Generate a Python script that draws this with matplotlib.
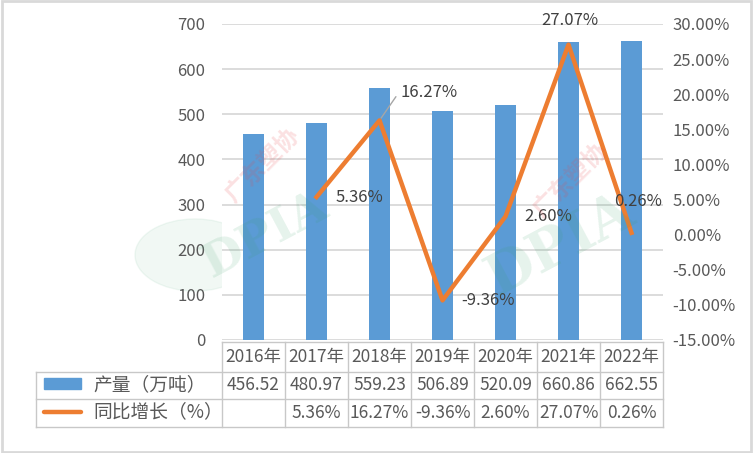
import matplotlib
matplotlib.use("Agg")
import matplotlib.pyplot as plt
from matplotlib.patches import Rectangle, Circle
from matplotlib.lines import Line2D

plt.rcParams['font.family'] = ['Liberation Sans Narrow', 'Noto Sans CJK SC', 'DejaVu Sans']

years = ['2016年', '2017年', '2018年', '2019年', '2020年', '2021年', '2022年']
output = [456.52, 480.97, 559.23, 506.89, 520.09, 660.86, 662.55]
growth = [None, 5.36, 16.27, -9.36, 2.60, 27.07, 0.26]
output_txt = ['456.52', '480.97', '559.23', '506.89', '520.09', '660.86', '662.55']
growth_txt = ['', '5.36%', '16.27%', '-9.36%', '2.60%', '27.07%', '0.26%']
series_names = ['产量（万吨）', '同比增长（%）']

blue = '#5B9BD5'
orange = '#ED7D31'
txt = '#595959'
grid = '#d9d9d9'

W, H = 753, 453
fig = plt.figure(figsize=(W / 100, H / 100), dpi=100)
fig.patch.set_facecolor('white')
# chart border
fig.add_artist(Rectangle((0.002, 0.003), 0.996, 0.994, transform=fig.transFigure,
                         fill=False, edgecolor='#d9d9d9', lw=2))

ax = fig.add_axes([222 / W, 1 - 340 / H, 441 / W, 316 / H])
x = list(range(len(years)))
ax.bar(x, output, width=0.32, color=blue, zorder=3)
ax.set_xlim(-0.5, 6.5)
ax.set_ylim(0, 700)
ax.set_yticks(range(0, 701, 100))
ax.yaxis.grid(True, color=grid, lw=1.3, zorder=0)
ax.set_xticks([])
for s in ax.spines.values():
    s.set_visible(False)
ax.tick_params(axis='y', length=0, pad=12, labelsize=12, labelcolor=txt)

ax2 = ax.twinx()
gx = [i for i, g in enumerate(growth) if g is not None]
gy = [growth[i] / 100 for i in gx]
ax2.plot(gx, gy, color=orange, lw=3.2, zorder=5)
ax2.set_ylim(-0.15, 0.30)
ax2.set_yticks([i / 100 for i in range(-15, 31, 5)])
ax2.set_yticklabels([f'{i:.2f}%' for i in range(-15, 31, 5)])
ax2.tick_params(axis='y', length=0, pad=7, labelsize=12, labelcolor=txt)
for s in ax2.spines.values():
    s.set_visible(False)

# data labels (pixel offsets from the point)
offsets = {1: (19, 0, 'left'), 2: (21, 28, 'left'), 3: (19, 0, 'left'),
           4: (19, 0, 'left'), 5: (1, 24, 'center'), 6: (7, 31, 'center')}
for i in gx:
    dx, dy, ha = offsets[i]
    ax2.annotate(growth_txt[i], (i, growth[i] / 100), xytext=(dx, dy),
                 textcoords='offset pixels', ha=ha, va='center',
                 fontsize=12, color='#404040', zorder=6)
# leader line for 2018 label
ax2.annotate('', (2, growth[2] / 100), xytext=(18, 26), textcoords='offset pixels',
             arrowprops=dict(arrowstyle='-', color='#a6a6a6', lw=1))

# watermark
for (cx, cy, r) in [(195, 255, 60), (500, 265, 60)]:
    fig.add_artist(Circle((cx / W, 1 - cy / H), r / W, transform=fig.transFigure,
                          color='#3aa06a', alpha=0.07, zorder=0))
for (wx, wy) in [(262, 165), (570, 180)]:
    fig.text(wx / W, 1 - wy / H, '广东塑协', rotation=45, color='#e8464a', alpha=0.16,
             fontsize=17, ha='center', va='center', fontweight='bold',
             family=['Noto Sans CJK SC'])
for (wx, wy, fs) in [(265, 235, 34), (560, 245, 40)]:
    fig.text(wx / W, 1 - wy / H, 'DPIA', rotation=28, color='#3aa06a', alpha=0.13,
             fontsize=fs, ha='center', va='center', fontweight='bold',
             family=['DejaVu Serif'])

# data table
def fy(py):
    return 1 - py / H
row_y = [342, 372, 399, 427]
left_px = 36
line_kw = dict(color='#c8c8c8', lw=1)
# horizontal lines
fig.add_artist(Line2D([222 / W, 663 / W], [fy(row_y[0])] * 2, **line_kw))
for py in row_y[1:]:
    fig.add_artist(Line2D([left_px / W, 663 / W], [fy(py)] * 2, **line_kw))
# vertical lines
for i in range(len(years) + 1):
    xp = (222 + i * 63) / W
    fig.add_artist(Line2D([xp, xp], [fy(row_y[0]), fy(row_y[3])], **line_kw))
fig.add_artist(Line2D([left_px / W] * 2, [fy(row_y[1]), fy(row_y[3])], **line_kw))

for i in x:
    cx = (222 + 31.5 + i * 63) / W
    fig.text(cx, fy((row_y[0] + row_y[1]) / 2), years[i], ha='center', va='center',
             fontsize=12.5, color=txt)
    fig.text(cx, fy((row_y[1] + row_y[2]) / 2), output_txt[i], ha='center', va='center',
             fontsize=12.5, color=txt)
    fig.text(cx, fy((row_y[2] + row_y[3]) / 2), growth_txt[i], ha='center', va='center',
             fontsize=12.5, color=txt)

fig.add_artist(Rectangle((44 / W, fy(389)), 37 / W, 11 / H, transform=fig.transFigure,
                         color=blue))
fig.add_artist(Line2D([44 / W, 81 / W], [fy(412)] * 2, color=orange, lw=3.2,
                      solid_capstyle='round'))
fig.text(93 / W, fy(385), series_names[0], ha='left', va='center', fontsize=13.5,
         color=txt, family=['Noto Sans CJK SC'])
fig.text(93 / W, fy(412), series_names[1], ha='left', va='center', fontsize=13.5,
         color=txt, family=['Noto Sans CJK SC'])

fig.savefig('out.png', dpi=100, facecolor='white')
